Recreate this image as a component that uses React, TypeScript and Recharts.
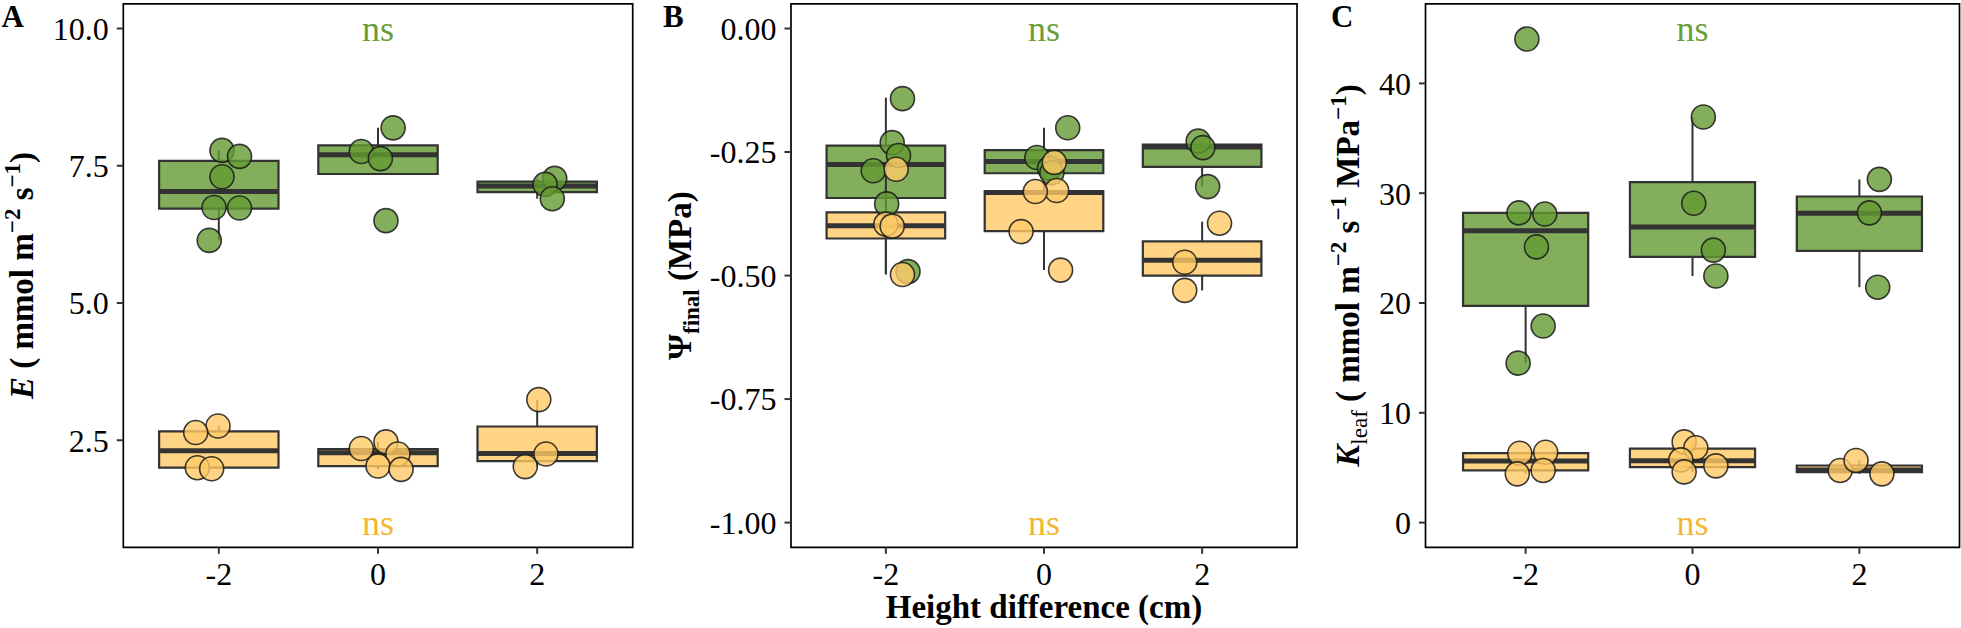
import { ComposedChart, ReferenceArea, ReferenceLine, Scatter, XAxis, YAxis } from 'recharts'
import type { ReactNode } from 'react'

const FONT = '"Liberation Serif", "Times New Roman", Times, serif'
const GREEN = '#649A32'
const YELLOW = '#FFCA66'
const GREEN_TEXT = '#6A9E3A'
const YELLOW_TEXT = '#F4B731'
const INK = '#333333'

// height difference (cm)
const HEIGHTS = [-2, 0, 2]

// A: E (mmol m-2 s-1)
const E_GREEN = [[7.78, 7.67, 7.3, 6.74, 6.73, 6.14], [8.19, 7.76, 7.63, 6.5], [7.27, 7.16, 6.9]]
const E_GREEN_JITTER = [[0.04, 0.26, 0.04, -0.06, 0.26, -0.12], [0.19, -0.21, 0.03, 0.1], [0.22, 0.1, 0.19]]
const E_GREEN_BOX = [[6.14, 6.72, 7.03, 7.59, 7.78], [7.35, 7.35, 7.7, 7.87, 8.19], [6.9, 7.02, 7.13, 7.21, 7.27]]
const E_YELLOW = [[2.76, 2.64, 2.0, 1.98], [2.35, 2.47, 2.25, 2.03, 1.97], [3.24, 2.25, 2.02]]
const E_YELLOW_JITTER = [[-0.01, -0.29, -0.27, -0.09], [-0.21, 0.1, 0.25, 0, 0.29], [0.02, 0.11, -0.15]]
const E_YELLOW_BOX = [[1.98, 2.0, 2.31, 2.66, 2.76], [1.97, 2.03, 2.27, 2.34, 2.47], [2.02, 2.12, 2.26, 2.75, 3.24]]
const E_TICKS = [2.5, 5, 7.5, 10]
const E_NS = [10, 1]

// B: Psi final (MPa)
const PSI_GREEN = [[-0.142, -0.231, -0.257, -0.288, -0.355, -0.492], [-0.201, -0.261, -0.283, -0.292], [-0.228, -0.241, -0.32]]
const PSI_GREEN_JITTER = [[0.21, 0.08, 0.16, -0.16, 0.01, 0.28], [0.3, -0.09, 0.07, 0.1], [-0.05, 0.01, 0.07]]
const PSI_GREEN_BOX = [[-0.497, -0.343, -0.275, -0.237, -0.14], [-0.3, -0.293, -0.269, -0.246, -0.201], [-0.32, -0.28, -0.24, -0.235, -0.228]]
const PSI_YELLOW = [[-0.285, -0.396, -0.4, -0.498], [-0.271, -0.328, -0.33, -0.411, -0.489], [-0.394, -0.473, -0.53]]
const PSI_YELLOW_JITTER = [[0.13, 0, 0.08, 0.21], [0.13, 0.16, -0.11, -0.29, 0.21], [0.22, -0.22, -0.22]]
const PSI_YELLOW_BOX = [[-0.498, -0.425, -0.399, -0.372, -0.283], [-0.489, -0.41, -0.332, -0.329, -0.271], [-0.53, -0.5, -0.469, -0.431, -0.391]]
const PSI_TICKS = [-1, -0.75, -0.5, -0.25, 0]
const PSI_NS = [0, -1]

// C: K leaf (mmol m-2 s-1 MPa-1)
const K_GREEN = [[44.04, 28.21, 28.1, 25.11, 17.9, 14.52], [36.94, 29.08, 24.82, 22.46], [31.26, 28.21, 21.44]]
const K_GREEN_JITTER = [[0.015, -0.08, 0.23, 0.13, 0.21, -0.09], [0.13, 0.015, 0.25, 0.28], [0.24, 0.12, 0.22]]
const K_GREEN_BOX = [[14.52, 19.73, 26.57, 28.21, 28.21], [22.46, 24.2, 26.93, 31.01, 36.94], [21.44, 24.75, 28.17, 29.7, 31.26]]
const K_YELLOW = [[6.32, 6.41, 4.44, 4.75], [7.35, 6.81, 5.71, 4.62, 5.17], [4.75, 5.66, 4.44]]
const K_YELLOW_JITTER = [[-0.07, 0.24, -0.1, 0.21], [-0.1, 0.04, -0.14, -0.1, 0.28], [-0.23, -0.04, 0.27]]
const K_YELLOW_BOX = [[4.44, 4.75, 5.6, 6.32, 6.41], [4.62, 5.06, 5.64, 6.73, 7.35], [4.44, 4.6, 4.8, 5.2, 5.66]]
const K_TICKS = [0, 10, 20, 30, 40]
const K_NS = [45, 0]

const toPoints = (vals: number[][], jitter: number[][]) =>
  HEIGHTS.flatMap((h, i) => vals[i].map((v, j) => ({ x: h + jitter[i][j], y: v })))

const SUP = { fontSize: 23 }

const eTitle = (
  <g>
    <text x={1.5} y={27} fontFamily={FONT} fontWeight="bold" fontSize={31}>A</text>
    <text transform="translate(33,275.5) rotate(-90)" textAnchor="middle" fontFamily={FONT} fontWeight="bold" fontSize={33} fill="#000">
      <tspan fontStyle="italic">E</tspan>
      <tspan>{' ( mmol m'}</tspan>
      <tspan {...SUP} dy={-13}>−2</tspan>
      <tspan dy={13}>{' s'}</tspan>
      <tspan {...SUP} dy={-13}>−1</tspan>
      <tspan dy={13}>)</tspan>
    </text>
  </g>
)

const psiTitle = (
  <g>
    <text x={23} y={27} fontFamily={FONT} fontWeight="bold" fontSize={31}>B</text>
    <text transform="translate(51,275.5) rotate(-90)" textAnchor="middle" fontFamily={FONT} fontWeight="bold" fontSize={33} fill="#000">
      <tspan>Ψ</tspan>
      <tspan {...SUP} dy={8}>final</tspan>
      <tspan dy={-8}>{' (MPa)'}</tspan>
    </text>
  </g>
)

const kTitle = (
  <g>
    <text x={31} y={27} fontFamily={FONT} fontWeight="bold" fontSize={31}>C</text>
    <text transform="translate(59,275.5) rotate(-90)" textAnchor="middle" fontFamily={FONT} fontWeight="bold" fontSize={33} fill="#000">
      <tspan fontStyle="italic">K</tspan>
      <tspan {...SUP} fontWeight="normal" dy={8}>leaf</tspan>
      <tspan dy={-8}>{' ( mmol m'}</tspan>
      <tspan {...SUP} dy={-13}>−2</tspan>
      <tspan dy={13}>{' s'}</tspan>
      <tspan {...SUP} dy={-13}>−1</tspan>
      <tspan dy={13}>{' MPa'}</tspan>
      <tspan {...SUP} dy={-13}>−1</tspan>
      <tspan dy={13}>)</tspan>
    </text>
  </g>
)

interface PanelProps {
  left: number
  width: number
  axisWidth: number
  right: number
  domain: [number, number]
  ticks: number[]
  digits: number
  green: number[][]
  greenJitter: number[][]
  greenBox: number[][]
  yellow: number[][]
  yellowJitter: number[][]
  yellowBox: number[][]
  ns: number[]
  title: ReactNode
  xTitle?: boolean
}

const tickStyle = { fill: '#000', fontSize: 32, fontFamily: FONT }

function Boxes({ boxes, color }: { boxes: number[][]; color: string }) {
  return null
}

function Panel(p: PanelProps) {
  const greenPts = toPoints(p.green, p.greenJitter)
  const yellowPts = toPoints(p.yellow, p.yellowJitter)
  const boxEls = (boxes: number[][], color: string, key: string) =>
    HEIGHTS.flatMap((h, i) => {
      const [lo, q1, med, q3, hi] = boxes[i]
      return [
        <ReferenceLine key={`${key}lw${i}`} segment={[{ x: h, y: lo }, { x: h, y: q1 }]} stroke={INK} strokeWidth={2} ifOverflow="visible" />,
        <ReferenceLine key={`${key}hw${i}`} segment={[{ x: h, y: q3 }, { x: h, y: hi }]} stroke={INK} strokeWidth={2} ifOverflow="visible" />,
        <ReferenceArea key={`${key}b${i}`} x1={h - 0.75} x2={h + 0.75} y1={q1} y2={q3} fill={color} fillOpacity={0.8} stroke={INK} strokeWidth={2.2} strokeOpacity={1} ifOverflow="visible" />,
        <ReferenceLine key={`${key}m${i}`} segment={[{ x: h - 0.75, y: med }, { x: h + 0.75, y: med }]} stroke={INK} strokeWidth={5} ifOverflow="visible" />,
      ]
    })
  const dot = (color: string) => (s: any) => (
    <circle cx={s.cx} cy={s.cy} r={12} fill={color} fillOpacity={0.8} stroke="#1a1a1a" strokeOpacity={0.85} strokeWidth={1.6} />
  )
  const nsLabel = (color: string) => (s: any) => (
    <text x={s.cx} y={s.cy + 12.5} textAnchor="middle" fontFamily={FONT} fontSize={36} fill={color}>ns</text>
  )
  return (
    <div style={{ position: 'absolute', left: p.left, top: 0 }}>
      <ComposedChart width={p.width} height={628} margin={{ top: 3.8, right: p.right, bottom: 0, left: 0 }}>
        <XAxis
          type="number"
          dataKey="x"
          domain={[-3.2, 3.2]}
          ticks={HEIGHTS}
          interval={0}
          allowDataOverflow
          height={628 - 547.3}
          axisLine={false}
          tickSize={6.5}
          tickMargin={8}
          tickLine={{ stroke: INK, strokeWidth: 2 }}
          tick={tickStyle}
          tickFormatter={(v) => String(v)}
          label={
            p.xTitle
              ? {
                  content: (lp: any) => (
                    <text
                      x={lp.viewBox.x + lp.viewBox.width / 2}
                      y={618}
                      textAnchor="middle"
                      fontFamily={FONT}
                      fontWeight="bold"
                      fontSize={33}
                      fill="#000"
                    >
                      Height difference (cm)
                    </text>
                  ),
                }
              : undefined
          }
        />
        <YAxis
          type="number"
          dataKey="y"
          domain={p.domain}
          ticks={p.ticks}
          interval={0}
          allowDataOverflow
          width={p.axisWidth}
          axisLine={false}
          tickSize={6.5}
          tickMargin={8}
          tickLine={{ stroke: INK, strokeWidth: 2 }}
          tick={tickStyle}
          tickFormatter={(v) => Number(v).toFixed(p.digits)}
          label={{ content: () => p.title }}
        />
        {boxEls(p.greenBox, GREEN, 'g')}
        {boxEls(p.yellowBox, YELLOW, 'y')}
        <Scatter data={greenPts} dataKey="y" isAnimationActive={false} shape={dot(GREEN)} />
        <Scatter data={yellowPts} dataKey="y" isAnimationActive={false} shape={dot(YELLOW)} />
        <Scatter data={[{ x: 0, y: p.ns[0] }]} dataKey="y" isAnimationActive={false} shape={nsLabel(GREEN_TEXT)} />
        <Scatter data={[{ x: 0, y: p.ns[1] }]} dataKey="y" isAnimationActive={false} shape={nsLabel(YELLOW_TEXT)} />
        <ReferenceArea x1={-3.2} x2={3.2} y1={p.domain[0]} y2={p.domain[1]} fill="none" stroke="#000" strokeWidth={1.7} ifOverflow="visible" />
      </ComposedChart>
    </div>
  )
}

export default function App() {
  return (
    <div style={{ position: 'absolute', left: 0, top: 0, width: 1961, height: 628, background: '#fff', overflow: 'hidden' }}>
      <Panel
        left={0}
        width={640}
        axisWidth={123.3}
        right={7.3}
        domain={[0.55, 10.45]}
        ticks={E_TICKS}
        digits={1}
        green={E_GREEN}
        greenJitter={E_GREEN_JITTER}
        greenBox={E_GREEN_BOX}
        yellow={E_YELLOW}
        yellowJitter={E_YELLOW_JITTER}
        yellowBox={E_YELLOW_BOX}
        ns={E_NS}
        title={eTitle}
      />
      <Panel
        left={640}
        width={660}
        axisWidth={151}
        right={3}
        domain={[-1.05, 0.05]}
        ticks={PSI_TICKS}
        digits={2}
        green={PSI_GREEN}
        greenJitter={PSI_GREEN_JITTER}
        greenBox={PSI_GREEN_BOX}
        yellow={PSI_YELLOW}
        yellowJitter={PSI_YELLOW_JITTER}
        yellowBox={PSI_YELLOW_BOX}
        ns={PSI_NS}
        title={psiTitle}
        xTitle
      />
      <Panel
        left={1300}
        width={661}
        axisWidth={125.5}
        right={1.5}
        domain={[-2.25, 47.25]}
        ticks={K_TICKS}
        digits={0}
        green={K_GREEN}
        greenJitter={K_GREEN_JITTER}
        greenBox={K_GREEN_BOX}
        yellow={K_YELLOW}
        yellowJitter={K_YELLOW_JITTER}
        yellowBox={K_YELLOW_BOX}
        ns={K_NS}
        title={kTitle}
      />
    </div>
  )
}
